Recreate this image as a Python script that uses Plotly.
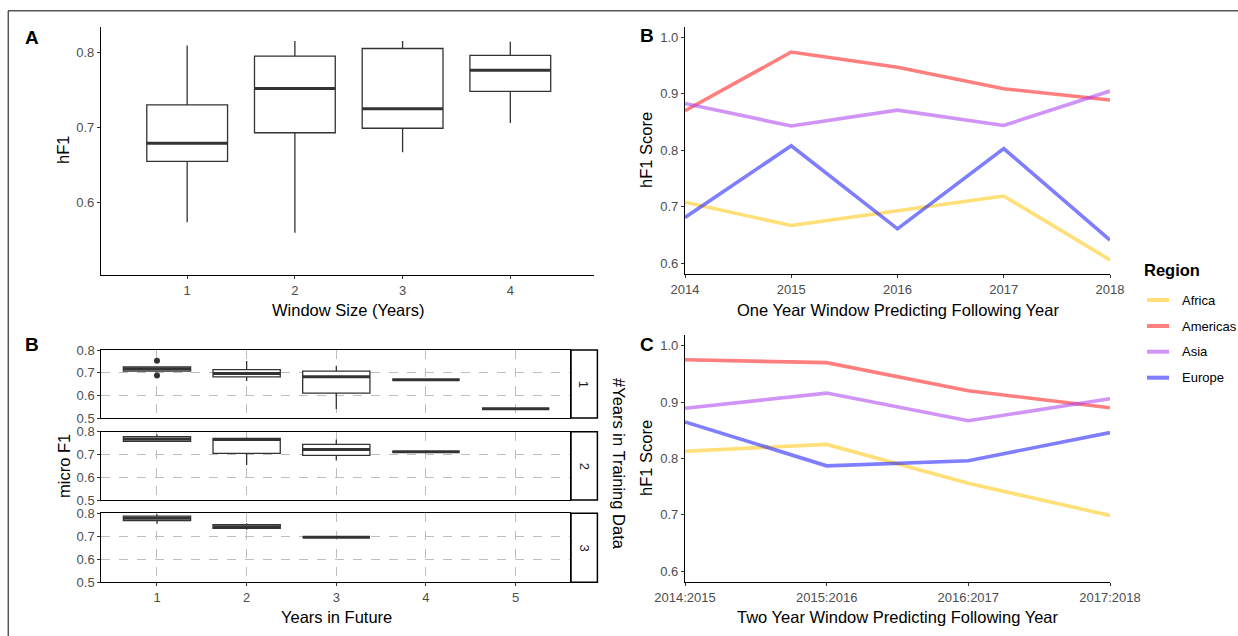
import plotly.graph_objects as go

W, H = 1238, 636

# ---------------- data ----------------
# Panel A: window size boxplots (hF1)
window_size = [1, 2, 3, 4]
a_q1 = [0.655, 0.693, 0.699, 0.748]
a_med = [0.679, 0.752, 0.725, 0.776]
a_q3 = [0.730, 0.795, 0.805, 0.796]
a_lo = [0.574, 0.560, 0.667, 0.706]
a_hi = [0.809, 0.815, 0.815, 0.814]

# Panel B (right): one-year window
years = [2014, 2015, 2016, 2017, 2018]
regions = ["Africa", "Americas", "Asia", "Europe"]
one_africa = [0.708, 0.667, 0.693, 0.719, 0.606]
one_americas = [0.870, 0.974, 0.947, 0.909, 0.889]
one_asia = [0.883, 0.843, 0.871, 0.844, 0.905]
one_europe = [0.681, 0.808, 0.661, 0.803, 0.641]

# Panel C: two-year window
windows = ["2014:2015", "2015:2016", "2016:2017", "2017:2018"]
two_africa = [0.813, 0.825, 0.756, 0.699]
two_americas = [0.975, 0.970, 0.920, 0.890]
two_asia = [0.889, 0.916, 0.867, 0.906]
two_europe = [0.865, 0.787, 0.796, 0.846]

# Panel B (left): micro F1 by years in future, faceted by #years in training data
f1_x = [1, 2, 3, 4, 5]
f1_q1 = [0.707, 0.681, 0.610, 0.669, 0.541]
f1_med = [0.716, 0.696, 0.682, 0.669, 0.541]
f1_q3 = [0.725, 0.713, 0.707, 0.669, 0.541]
f1_lo = [0.705, 0.663, 0.540, 0.669, 0.541]
f1_hi = [0.727, 0.752, 0.731, 0.669, 0.541]
f1_out_x = [1, 1]
f1_out_y = [0.753, 0.687]

f2_x = [1, 2, 3, 4]
f2_q1 = [0.758, 0.705, 0.696, 0.712]
f2_med = [0.768, 0.766, 0.722, 0.712]
f2_q3 = [0.778, 0.771, 0.744, 0.712]
f2_lo = [0.756, 0.654, 0.673, 0.712]
f2_hi = [0.788, 0.775, 0.766, 0.712]

f3_x = [1, 2, 3]
f3_q1 = [0.768, 0.735, 0.696]
f3_med = [0.778, 0.742, 0.696]
f3_q3 = [0.788, 0.751, 0.696]
f3_lo = [0.754, 0.728, 0.696]
f3_hi = [0.796, 0.757, 0.696]

score_ticks = [0.6, 0.7, 0.8, 0.9, 1.0]
score_ticktext = ["0.6", "0.7", "0.8", "0.9", "1.0"]
micro_ticks = [0.5, 0.6, 0.7, 0.8]
micro_ticktext = ["0.5", "0.6", "0.7", "0.8"]

colors = {
    "Africa": "rgba(255,200,20,0.58)",
    "Americas": "rgba(255,20,20,0.55)",
    "Asia": "rgba(170,60,240,0.55)",
    "Europe": "rgba(20,20,255,0.55)",
}

# ---------------- helpers ----------------
def px(x):
    return x / W

def py(y):
    return 1 - y / H

FONT = "Liberation Sans, Arial, Helvetica, sans-serif"
BOX_W = 0.75
LINE_C = "#333333"
TITLE_SIZE = 16.5
TICK_SIZE = 13

fig = go.Figure()

def add_boxes(xs, q1, med, q3, lo, hi, xa, ya):
    fig.add_trace(go.Box(
        x=xs, q1=q1, median=med, q3=q3, lowerfence=lo, upperfence=hi,
        width=BOX_W, whiskerwidth=0, fillcolor="white",
        line=dict(color=LINE_C, width=1.3), boxpoints=False,
        xaxis=xa, yaxis=ya, showlegend=False, hoverinfo="skip"))
    mx, my = [], []
    for c, m in zip(xs, med):
        mx += [c - BOX_W / 2, c + BOX_W / 2, None]
        my += [m, m, None]
    fig.add_trace(go.Scatter(x=mx, y=my, mode="lines",
                             line=dict(color=LINE_C, width=3),
                             xaxis=xa, yaxis=ya, showlegend=False,
                             hoverinfo="skip"))

# Panel A
add_boxes(window_size, a_q1, a_med, a_q3, a_lo, a_hi, "x", "y")

# Facets
add_boxes(f1_x, f1_q1, f1_med, f1_q3, f1_lo, f1_hi, "x4", "y4")
fig.add_trace(go.Scatter(x=f1_out_x, y=f1_out_y, mode="markers",
                         marker=dict(color=LINE_C, size=6),
                         xaxis="x4", yaxis="y4", showlegend=False))
add_boxes(f2_x, f2_q1, f2_med, f2_q3, f2_lo, f2_hi, "x5", "y5")
add_boxes(f3_x, f3_q1, f3_med, f3_q3, f3_lo, f3_hi, "x6", "y6")

# Lines panels
one_vals = {"Africa": one_africa, "Americas": one_americas,
            "Asia": one_asia, "Europe": one_europe}
two_vals = {"Africa": two_africa, "Americas": two_americas,
            "Asia": two_asia, "Europe": two_europe}
for r in regions:
    fig.add_trace(go.Scatter(x=years, y=one_vals[r], mode="lines", name=r,
                             line=dict(color=colors[r], width=3.6),
                             xaxis="x2", yaxis="y2", showlegend=False))
    fig.add_trace(go.Scatter(x=list(range(len(windows))), y=two_vals[r],
                             mode="lines", name=r,
                             line=dict(color=colors[r], width=3.6),
                             xaxis="x3", yaxis="y3", showlegend=False))

# ---------------- axes ----------------
tickfont = dict(family=FONT, size=TICK_SIZE, color="#4D4D4D")
base_axis = dict(showline=True, linecolor="black", linewidth=1.2,
                 ticks="outside", ticklen=3, tickcolor="#333333",
                 tickfont=tickfont, zeroline=False, showgrid=False,
                 automargin=False)

layout = dict(
    width=W, height=H, autosize=False,
    margin=dict(l=0, r=0, t=0, b=0, pad=0, autoexpand=False),
    paper_bgcolor="white", plot_bgcolor="white",
    font=dict(family=FONT, color="black"),
    showlegend=False, boxmode="overlay",
)

layout["xaxis"] = dict(base_axis, domain=[px(101), px(594)], anchor="y",
                       range=[0.2, 4.777], tickvals=window_size)
layout["yaxis"] = dict(base_axis, domain=[py(275), py(27)], anchor="x",
                       range=[0.5039, 0.8336], tickvals=[0.6, 0.7, 0.8],
                       ticktext=["0.6", "0.7", "0.8"])

layout["xaxis2"] = dict(base_axis, domain=[px(685), px(1110)], anchor="y2",
                        range=[2014, 2018], tickvals=years)
layout["yaxis2"] = dict(base_axis, domain=[py(274.3), py(26.7)], anchor="x2",
                        range=[0.5805, 1.0188], tickvals=score_ticks,
                        ticktext=score_ticktext)

layout["xaxis3"] = dict(base_axis, domain=[px(685), px(1110)], anchor="y3",
                        range=[0, 3], tickvals=list(range(len(windows))),
                        ticktext=windows)
layout["yaxis3"] = dict(base_axis, domain=[py(582.3), py(335)], anchor="x3",
                        range=[0.5805, 1.019], tickvals=score_ticks,
                        ticktext=score_ticktext)

facet_rows = [(350, 418), (431.7, 500), (513.3, 582.3)]
for i, (top, bot) in enumerate(facet_rows):
    n = 4 + i
    layout[f"xaxis{n}"] = dict(
        base_axis, domain=[px(101.4), px(570.3)], anchor=f"y{n}",
        range=[0.38, 5.61], tickvals=f1_x, mirror=True,
        showticklabels=(i == 2), ticklen=3 if i == 2 else 0,
        showgrid=True, gridcolor="#BEBEBE", griddash="dash", gridwidth=1)
    layout[f"yaxis{n}"] = dict(
        base_axis, domain=[py(bot), py(top)], anchor=f"x{n}",
        range=[0.5, 0.8], tickvals=micro_ticks, ticktext=micro_ticktext,
        mirror=True, showgrid=True, gridcolor="#BEBEBE", griddash="dash",
        gridwidth=1)

fig.update_layout(**layout)

# ---------------- shapes ----------------
shapes = []
# outer frame (top and left edges visible)
shapes.append(dict(type="line", xref="paper", yref="paper",
                   x0=px(8), x1=1, y0=py(10.7), y1=py(10.7),
                   line=dict(color="#555555", width=1.5), layer="above"))
shapes.append(dict(type="line", xref="paper", yref="paper",
                   x0=px(8.3), x1=px(8.3), y0=0, y1=py(10.7),
                   line=dict(color="#555555", width=1.5), layer="above"))
# facet strips
for top, bot in facet_rows:
    shapes.append(dict(type="rect", xref="paper", yref="paper",
                       x0=px(571), x1=px(597.4), y0=py(bot), y1=py(top),
                       line=dict(color="black", width=1.5), fillcolor="white"))
# legend keys
legend_y = [300, 326, 351.7, 377.7]
for r, yy in zip(regions, legend_y):
    shapes.append(dict(type="line", xref="paper", yref="paper",
                       x0=px(1147), x1=px(1169), y0=py(yy), y1=py(yy),
                       line=dict(color=colors[r], width=4)))
fig.update_layout(shapes=shapes)

# ---------------- annotations ----------------
ann = []

def text(x, y, s, size=TITLE_SIZE, angle=0, bold=False, xanchor="center",
         color="black"):
    ann.append(dict(x=px(x), y=py(y), xref="paper", yref="paper",
                    text=f"<b>{s}</b>" if bold else s, showarrow=False,
                    textangle=angle, xanchor=xanchor, yanchor="middle",
                    font=dict(family=FONT, size=size, color=color)))

# panel letters
text(32, 37, "A", size=19, bold=True)
text(647, 36, "B", size=19, bold=True)
text(32, 344, "B", size=19, bold=True)
text(647, 344, "C", size=19, bold=True)

# axis titles
text(63, 150, "hF1", angle=-90)
text(348, 310, "Window Size (Years)")
text(646, 150, "hF1 Score", angle=-90)
text(898, 310, "One Year Window Predicting Following Year")
text(646, 458, "hF1 Score", angle=-90)
text(898, 617, "Two Year Window Predicting Following Year")
text(64, 466, "micro F1", angle=-90)
text(336, 617, "Years in Future")
text(619, 464, "#Years in Training Data", angle=90)

# strip labels
for lab, (top, bot) in zip(["1", "2", "3"], facet_rows):
    text(584.2, (top + bot) / 2, lab, size=13, angle=90, color="#1A1A1A")

# legend
text(1142, 270, "Region", size=16.5, bold=True, xanchor="left")
for r, yy in zip(regions, legend_y):
    text(1180, yy, r, size=13, xanchor="left")

fig.update_layout(annotations=ann)

fig.write_html(
    "out.html",
    config={"displayModeBar": False},
    post_script="document.body.style.margin='0';document.body.style.padding='0';"
                "document.documentElement.style.overflow='hidden';",
)
